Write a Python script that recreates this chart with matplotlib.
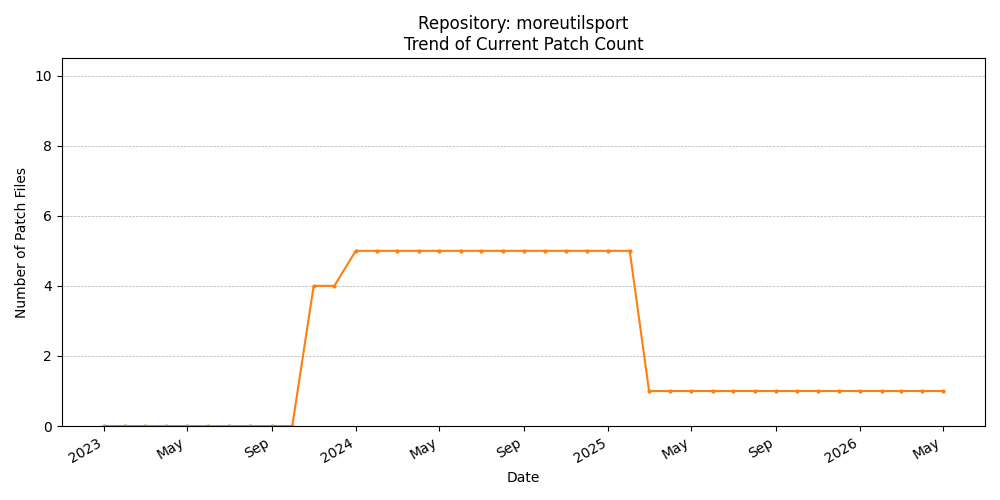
import matplotlib
matplotlib.use("Agg")
import matplotlib.pyplot as plt
import matplotlib.dates as mdates
import pandas as pd

dates = pd.date_range("2023-01-01", "2026-05-01", freq="MS")
values = [0]*10 + [4, 4] + [5]*14 + [1]*15

fig, ax = plt.subplots(figsize=(10, 5), dpi=100)
ax.plot(dates, values, color="#ff7f0e", marker="o", markersize=2)
ax.set_ylim(0, 10.5)
ax.set_title("Repository: moreutilsport\nTrend of Current Patch Count")
ax.set_xlabel("Date")
ax.set_ylabel("Number of Patch Files")
ax.grid(axis="y", linestyle="--", linewidth=0.5)
loc = mdates.AutoDateLocator()
ax.xaxis.set_major_locator(loc)
ax.xaxis.set_major_formatter(mdates.ConciseDateFormatter(loc))
fig.autofmt_xdate()
fig.tight_layout()
fig.savefig("out.png")
